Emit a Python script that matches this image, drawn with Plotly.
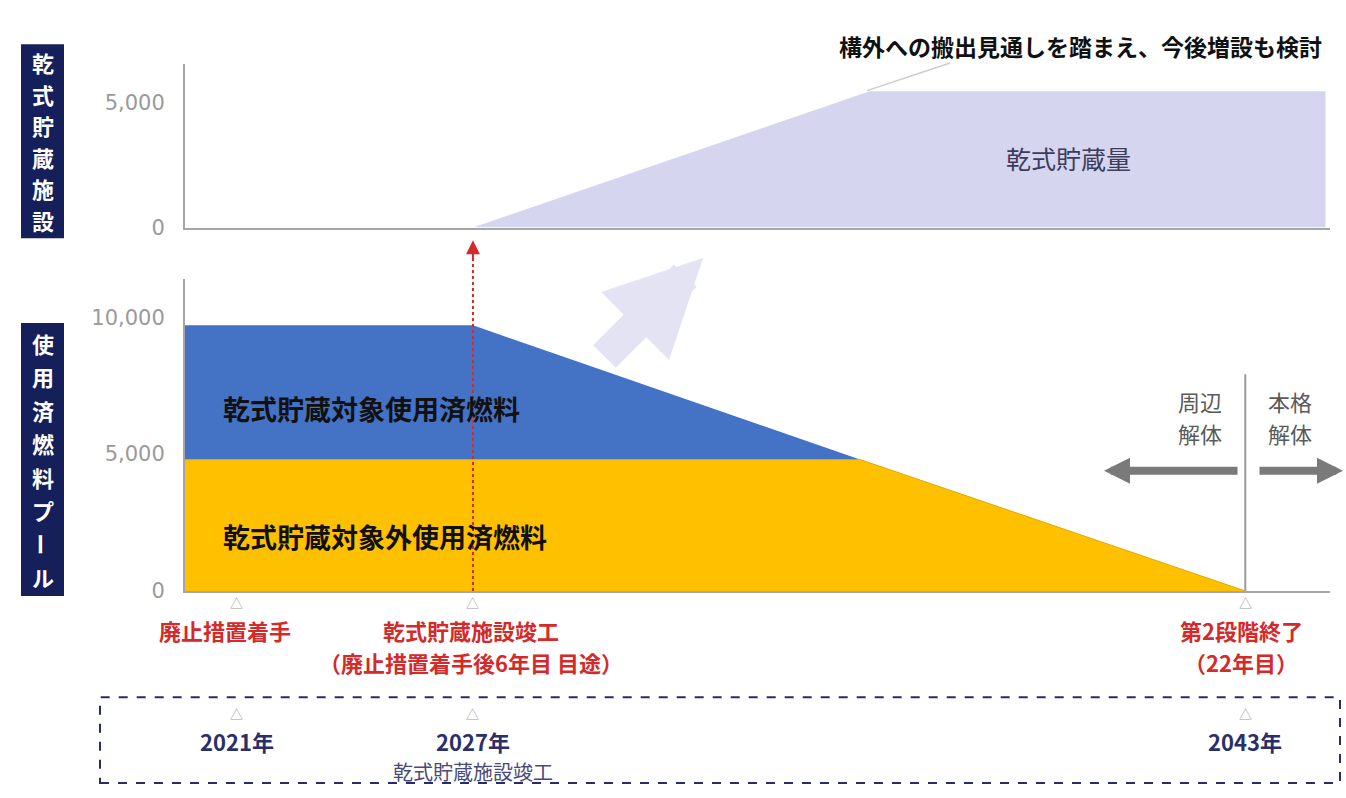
import plotly.graph_objects as go

W, H = 1346, 798

# ---------------- data (schematic timeline units 0-100) ----------------
pool_x = [0, 25.15, 58.95, 92.6]
pool_outside = [4800, 4800, 4800, 0]      # 乾式貯蔵対象外使用済燃料
pool_target = [4900, 4900, 0, 0]          # 乾式貯蔵対象使用済燃料 (stacked)
dry_x = [25.15, 59.8, 99.6]
dry_y = [0, 5450, 5450]                   # 乾式貯蔵量
milestone_x = [4.54, 25.15, 92.6]
milestone_year = ["2021年", "2027年", "2043年"]
milestone_event = ["廃止措置着手", "乾式貯蔵施設竣工", "第2段階終了"]
milestone_note = ["", "（廃止措置着手後6年目 目途）", "（22年目）"]
top_ticks = [0, 5000]
pool_ticks = [0, 5000, 10000]

FONT = "Noto Sans CJK JP, Noto Sans, sans-serif"
NAVY = "#15205a"
RED = "#d42a2a"


def px(x):
    return x / W


def py(y):
    return 1 - y / H


fig = go.Figure()

fig.add_trace(go.Scatter(
    x=dry_x, y=dry_y, mode="lines", fill="tozeroy",
    fillcolor="#d5d5f0", line=dict(color="#d5d5f0", width=0),
    xaxis="x2", yaxis="y", showlegend=False, hoverinfo="skip"))

fig.add_trace(go.Scatter(
    x=pool_x, y=pool_outside, mode="lines", stackgroup="pool",
    fillcolor="#ffc000", line=dict(color="#e0a800", width=1),
    xaxis="x", yaxis="y2", showlegend=False, hoverinfo="skip"))
fig.add_trace(go.Scatter(
    x=pool_x, y=pool_target, mode="lines", stackgroup="pool",
    fillcolor="#4472c4", line=dict(color="#4472c4", width=0),
    xaxis="x", yaxis="y2", showlegend=False, hoverinfo="skip"))

xdom = [185 / W, 1330 / W]
top_dom = [py(231), py(65)]
pool_dom = [py(600), py(283)]
top_range = [0, (231 - 65) / 127 * 5000]
pool_range = [0, (600 - 283) / 139 * 5000]

axis_common = dict(showgrid=False, zeroline=False, showline=True,
                   linecolor="#a6a6a6", linewidth=2)

fig.update_layout(
    width=W, height=H,
    margin=dict(l=0, r=0, t=0, b=0),
    paper_bgcolor="white", plot_bgcolor="rgba(0,0,0,0)",
    font=dict(family=FONT),
    xaxis=dict(domain=xdom, range=[0, 100], anchor="y2",
               showticklabels=False, ticks="", **axis_common),
    xaxis2=dict(domain=xdom, range=[0, 100], anchor="y", matches="x",
                showticklabels=False, ticks="", **axis_common),
    yaxis=dict(domain=top_dom, range=top_range, anchor="x2",
               tickvals=top_ticks, tickformat=",", ticks="",
               ticklabelstandoff=14,
               tickfont=dict(family="DejaVu Sans", size=21, color="#9a9a9a"),
               **axis_common),
    yaxis2=dict(domain=pool_dom, range=pool_range, anchor="x",
                tickvals=pool_ticks, tickformat=",", ticks="",
                ticklabelstandoff=14,
                tickfont=dict(family="DejaVu Sans", size=21, color="#9a9a9a"),
                **axis_common),
)

shapes = []
ann = []


def text_ann(x, y, text, size, color, xref="paper", xanchor="center", bold=False, **kw):
    ann.append(dict(xref=xref, yref="paper", x=x, y=y,
                    text="<b>%s</b>" % text if bold else text,
                    showarrow=False, xanchor=xanchor, yanchor="middle",
                    borderpad=0,
                    font=dict(size=size, color=color, family=FONT), **kw))


# side title boxes
shapes.append(dict(type="rect", xref="paper", yref="paper",
                   x0=px(21), x1=px(64), y0=py(242), y1=py(45),
                   fillcolor=NAVY, line=dict(width=0), layer="above"))
shapes.append(dict(type="rect", xref="paper", yref="paper",
                   x0=px(21), x1=px(64), y0=py(605), y1=py(328),
                   fillcolor=NAVY, line=dict(width=0), layer="above"))


def vertical_text(text, top, pitch, size):
    for i, ch in enumerate(text):
        text_ann(px(42.5), py(top + pitch * (i + 0.5)), ch, size, "white",
                 bold=True, textangle=90 if ch == "ー" else 0)


vertical_text("乾式貯蔵施設", 47, 32, 22)
vertical_text("使用済燃料プール", 331, 34, 22)

# top annotation and leader line
text_ann(px(1323), py(47), "構外への搬出見通しを踏まえ、今後増設も検討", 23,
         "#111111", xanchor="right", bold=True)
shapes.append(dict(type="line", xref="paper", yref="paper",
                   x0=px(867), y0=py(92), x1=px(950), y1=py(64),
                   line=dict(color="#cccccc", width=1.5)))

text_ann(px(1068), py(160), "乾式貯蔵量", 25, "#3c3c5c")

# area labels
text_ann(px(222), py(415), "乾式貯蔵対象使用済燃料", 27, "#111111",
         xanchor="left", bold=True)
text_ann(px(222), py(545), "乾式貯蔵対象外使用済燃料", 27, "#111111",
         xanchor="left", bold=True)

# red dotted arrow at 2027
shapes.append(dict(type="line", xref="x", yref="paper",
                   x0=milestone_x[1], x1=milestone_x[1],
                   y0=py(600), y1=py(262),
                   line=dict(color=RED, width=2, dash="dot"), layer="above"))
ann.append(dict(xref="x", yref="paper", x=milestone_x[1], y=py(244),
                text="", showarrow=True, ax=0, ay=22, arrowhead=2,
                arrowsize=1.4, arrowwidth=2, arrowcolor=RED))

# big faint arrow
ann.append(dict(xref="paper", yref="paper", x=px(703), y=py(262),
                text="", showarrow=True, ax=-100, ay=100, arrowhead=2,
                arrowsize=0.6, arrowwidth=32, arrowcolor="#e3e3f3"))

# dismantling markers
shapes.append(dict(type="line", xref="x", yref="paper",
                   x0=milestone_x[2], x1=milestone_x[2],
                   y0=py(600), y1=py(380),
                   line=dict(color="#9a9a9a", width=2)))
for xc, words in ((1200, ("周辺", "解体")), (1290, ("本格", "解体"))):
    text_ann(px(xc), py(407), words[0], 22, "#5a5a5a")
    text_ann(px(xc), py(440), words[1], 22, "#5a5a5a")
ann.append(dict(xref="paper", yref="paper", x=px(1104), y=py(478),
                text="", showarrow=True, ax=135, ay=0, arrowhead=2,
                arrowsize=0.65, arrowwidth=8, arrowcolor="#7a7a7a"))
ann.append(dict(xref="paper", yref="paper", x=px(1343), y=py(478),
                text="", showarrow=True, ax=-85, ay=0, arrowhead=2,
                arrowsize=0.65, arrowwidth=8, arrowcolor="#7a7a7a"))

# milestones under the pool chart
event_dx = [-12, -2, -4]
for xm, ev, note, dx in zip(milestone_x, milestone_event, milestone_note, event_dx):
    text_ann(xm, py(612), "△", 13, "#a0a0a0", xref="x")
    text_ann(xm, py(640), ev, 22, RED, xref="x", bold=True, xshift=dx)
    if note:
        text_ann(xm, py(672), note, 22, RED, xref="x", bold=True, xshift=dx)

# dashed timeline box
shapes.append(dict(type="rect", xref="paper", yref="paper",
                   x0=px(100), x1=px(1340), y0=py(795), y1=py(708),
                   line=dict(color="#2b2b6b", width=2, dash="dash")))
for xm, yr in zip(milestone_x, milestone_year):
    text_ann(xm, py(724), "△", 13, "#a0a0a0", xref="x")
    text_ann(xm, py(752), yr, 22, "#2a2f6a", xref="x", bold=True)
text_ann(milestone_x[1], py(783), milestone_event[1], 20, "#4a4a78", xref="x")

fig.update_layout(shapes=shapes, annotations=ann)
fig.write_html("out.html")
